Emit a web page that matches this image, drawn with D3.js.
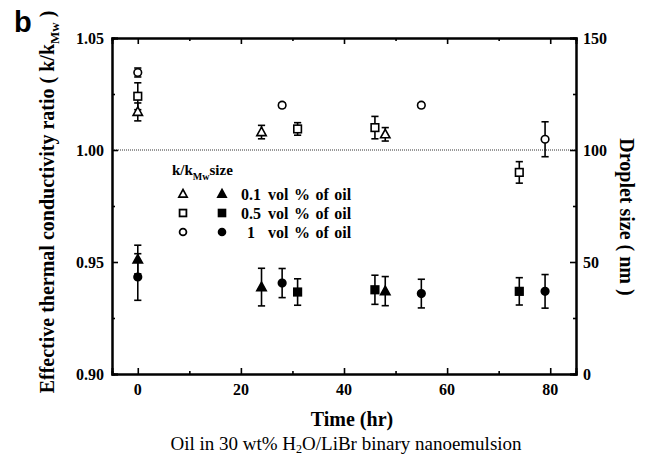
<!DOCTYPE html>
<html>
<head>
<meta charset="utf-8">
<script src="https://cdn.jsdelivr.net/npm/d3@7"></script>
<style>
  body { margin: 0; background: #fff; }
  text { font-family: "Liberation Serif", "Times New Roman", serif; }
  .tick-label { font-size: 16px; font-weight: bold; }
</style>
</head>
<body>
<svg id="chart" width="646" height="458"></svg>
<script>
// thermal conductivity ratio (left axis, open markers)
let kTriX = [0, 24, 48];
let kTriY = [1.017, 1.008, 1.007];
let kTriErr = [0.004, 0.003, 0.003];

let kSqX = [0, 31, 46, 74];
let kSqY = [1.024, 1.0094, 1.010, 0.990];
let kSqErr = [0.006, 0.0028, 0.005, 0.0048];

let kCircX = [0, 28, 55, 79];
let kCircY = [1.0346, 1.020, 1.020, 1.0048];
let kCircErr = [0.002, 0.001, 0.001, 0.0078];

// droplet size in nm (right axis, filled markers)
let dTriX = [0, 24, 48];
let dTriY = [51.1, 38.8, 37.0];
let dTriErr = [6.4, 8.4, 6.5];

let dSqX = [31, 46, 74];
let dSqY = [36.6, 37.6, 36.9];
let dSqErr = [5.9, 6.5, 6.1];

let dCircX = [0, 28, 55, 79];
let dCircY = [43.3, 40.6, 35.9, 36.9];
let dCircErr = [10.4, 6.5, 6.4, 7.5];

let xTicks = [0, 20, 40, 60, 80];
let yLeftTicks = [0.90, 0.95, 1.00, 1.05];
let yRightTicks = [0, 50, 100, 150];
let legendLabels = ["0.1", "0.5", "1"];

let padL = 112, padR = 576, padT = 38, padB = 374;

let svg = d3.select("#chart");

let x = d3.scaleLinear().domain([-5, 85]).range([padL, padR]);
let yL = d3.scaleLinear().domain([0.90, 1.05]).range([padB, padT]);
let yR = d3.scaleLinear().domain([0, 150]).range([padB, padT]);

//dotted reference line at ratio 1
svg.append("line")
  .attr("x1", padL).attr("x2", padR)
  .attr("y1", yL(1)).attr("y2", yL(1))
  .attr("stroke", "#333").attr("stroke-width", 1)
  .attr("stroke-dasharray", "1,1");

// axes, ticks point inward
function addAxis(axis, tx, ty, major, minor) {
  let g = svg.append("g").attr("transform", translate(tx, ty));
  g.call(axis.tickValues(major).tickSize(-6).tickFormat(""));
  let gm = svg.append("g").attr("transform", translate(tx, ty));
  gm.call(axis.tickValues(minor).tickSize(-3).tickFormat(""));
  [g, gm].forEach(function(s) {
    s.select(".domain").attr("stroke", "#000").attr("stroke-width", 2);
    s.selectAll(".tick line").attr("stroke", "#000").attr("stroke-width", 1.6);
  });
  return g;
}

let xMinor = [10, 30, 50, 70];
addAxis(d3.axisBottom(x), 0, padB, xTicks, xMinor);
addAxis(d3.axisTop(x), 0, padT, xTicks, xMinor);
addAxis(d3.axisLeft(yL), padL, 0, yLeftTicks, [0.925, 0.975, 1.025]);
addAxis(d3.axisRight(yR), padR, 0, yRightTicks, [25, 75, 125]);

//tick labels
svg.append("g").selectAll("text").data(xTicks).enter().append("text")
  .attr("class", "tick-label")
  .attr("x", d => x(d)).attr("y", padB + 21)
  .attr("text-anchor", "middle").text(d => d);

svg.append("g").selectAll("text").data(yLeftTicks).enter().append("text")
  .attr("class", "tick-label")
  .attr("x", padL - 8).attr("y", d => yL(d) + 5.5)
  .attr("text-anchor", "end").text(d => d.toFixed(2));

svg.append("g").selectAll("text").data(yRightTicks).enter().append("text")
  .attr("class", "tick-label")
  .attr("x", padR + 7).attr("y", d => yR(d) + 5.5)
  .attr("text-anchor", "start").text(d => d);

// marker shapes
let triPath = "M0,-5L4.7,3.5L-4.7,3.5Z";
function drawMarker(g, shape, cx, cy, filled, s) {
  s = s || 1;
  let fill = filled ? "#000" : "#fff";
  let m;
  if (shape === "tri") {
    m = g.append("path").attr("d", triPath)
      .attr("transform", translate(cx, cy) + " scale(" + s + ")");
  } else if (shape === "sq") {
    m = g.append("rect").attr("x", cx - 3.8 * s).attr("y", cy - 3.8 * s)
      .attr("width", 7.6 * s).attr("height", 7.6 * s);
  } else {
    m = g.append("circle").attr("cx", cx).attr("cy", cy).attr("r", 3.8 * s);
  }
  m.attr("fill", fill).attr("stroke", "#000").attr("stroke-width", 1.6 / s);
}

function drawSeries(xs, ys, errs, yScale, shape, filled) {
  let g = svg.append("g");
  xs.forEach(function(xv, i) {
    let cx = x(xv);
    let y0 = yScale(ys[i] - errs[i]), y1 = yScale(ys[i] + errs[i]);
    g.append("line").attr("x1", cx).attr("x2", cx).attr("y1", y0).attr("y2", y1)
      .attr("stroke", "#000").attr("stroke-width", 1.6);
    [y0, y1].forEach(function(yy) {
      g.append("line").attr("x1", cx - 3.6).attr("x2", cx + 3.6).attr("y1", yy).attr("y2", yy)
        .attr("stroke", "#000").attr("stroke-width", 1.6);
    });
    drawMarker(g, shape, cx, yScale(ys[i]), filled);
  });
}

drawSeries(kSqX, kSqY, kSqErr, yL, "sq", false);
drawSeries(kTriX, kTriY, kTriErr, yL, "tri", false);
drawSeries(kCircX, kCircY, kCircErr, yL, "circ", false);
drawSeries(dCircX, dCircY, dCircErr, yR, "circ", true);
drawSeries(dSqX, dSqY, dSqErr, yR, "sq", true);
drawSeries(dTriX, dTriY, dTriErr, yR, "tri", true);

//legend
let lg = svg.append("g");
let title = lg.append("text").attr("x", 172).attr("y", 175)
  .attr("font-size", 15).attr("font-weight", "bold");
title.append("tspan").text("k/k");
title.append("tspan").attr("font-size", 10).attr("dy", 5).text("Mw");
title.append("tspan").attr("dy", -5).text("size");

let shapes = ["tri", "sq", "circ"];
legendLabels.forEach(function(label, i) {
  let ly = 194 + i * 19;
  drawMarker(lg, shapes[i], 183, ly, false, 0.9);
  drawMarker(lg, shapes[i], 222, ly, true, 0.9);
  lg.append("text").attr("x", 251).attr("y", ly + 5.5)
    .attr("text-anchor", "middle")
    .attr("font-size", 16).attr("font-weight", "bold").text(label);
  lg.append("text").attr("x", 268).attr("y", ly + 5.5)
    .attr("font-size", 16).attr("font-weight", "bold").attr("word-spacing", 1.5)
    .text("vol % of oil");
});

//axis titles
svg.append("text").attr("x", 352).attr("y", 426)
  .attr("text-anchor", "middle").attr("font-size", 20).attr("font-weight", "bold")
  .text("Time (hr)");

let lt = svg.append("text").attr("transform", "translate(54,202) rotate(-90)")
  .attr("text-anchor", "middle").attr("font-size", 20).attr("font-weight", "bold");
lt.append("tspan").text("Effective thermal conductivity ratio ( k/k");
lt.append("tspan").attr("font-size", 13).attr("dy", 5).text("Mw");
lt.append("tspan").attr("dy", -5).text(" )");

svg.append("text").attr("transform", "translate(620,217) rotate(90)")
  .attr("text-anchor", "middle").attr("font-size", 20).attr("font-weight", "bold")
  .text("Droplet size ( nm )");

let cap = svg.append("text").attr("x", 346).attr("y", 450)
  .attr("text-anchor", "middle").attr("font-size", 19);
cap.append("tspan").text("Oil in 30 wt% H");
cap.append("tspan").attr("font-size", 12).attr("dy", 3).text("2");
cap.append("tspan").attr("dy", -3).text("O/LiBr binary nanoemulsion");

svg.append("text").attr("x", 14).attr("y", 32)
  .style("font-family", "'Liberation Sans', Arial, sans-serif")
  .attr("font-size", 29).attr("font-weight", "bold").text("b");

function translate(x, y) {
  return 'translate(' + String(x) + ',' + String(y) + ')';
}
</script>
</body>
</html>
